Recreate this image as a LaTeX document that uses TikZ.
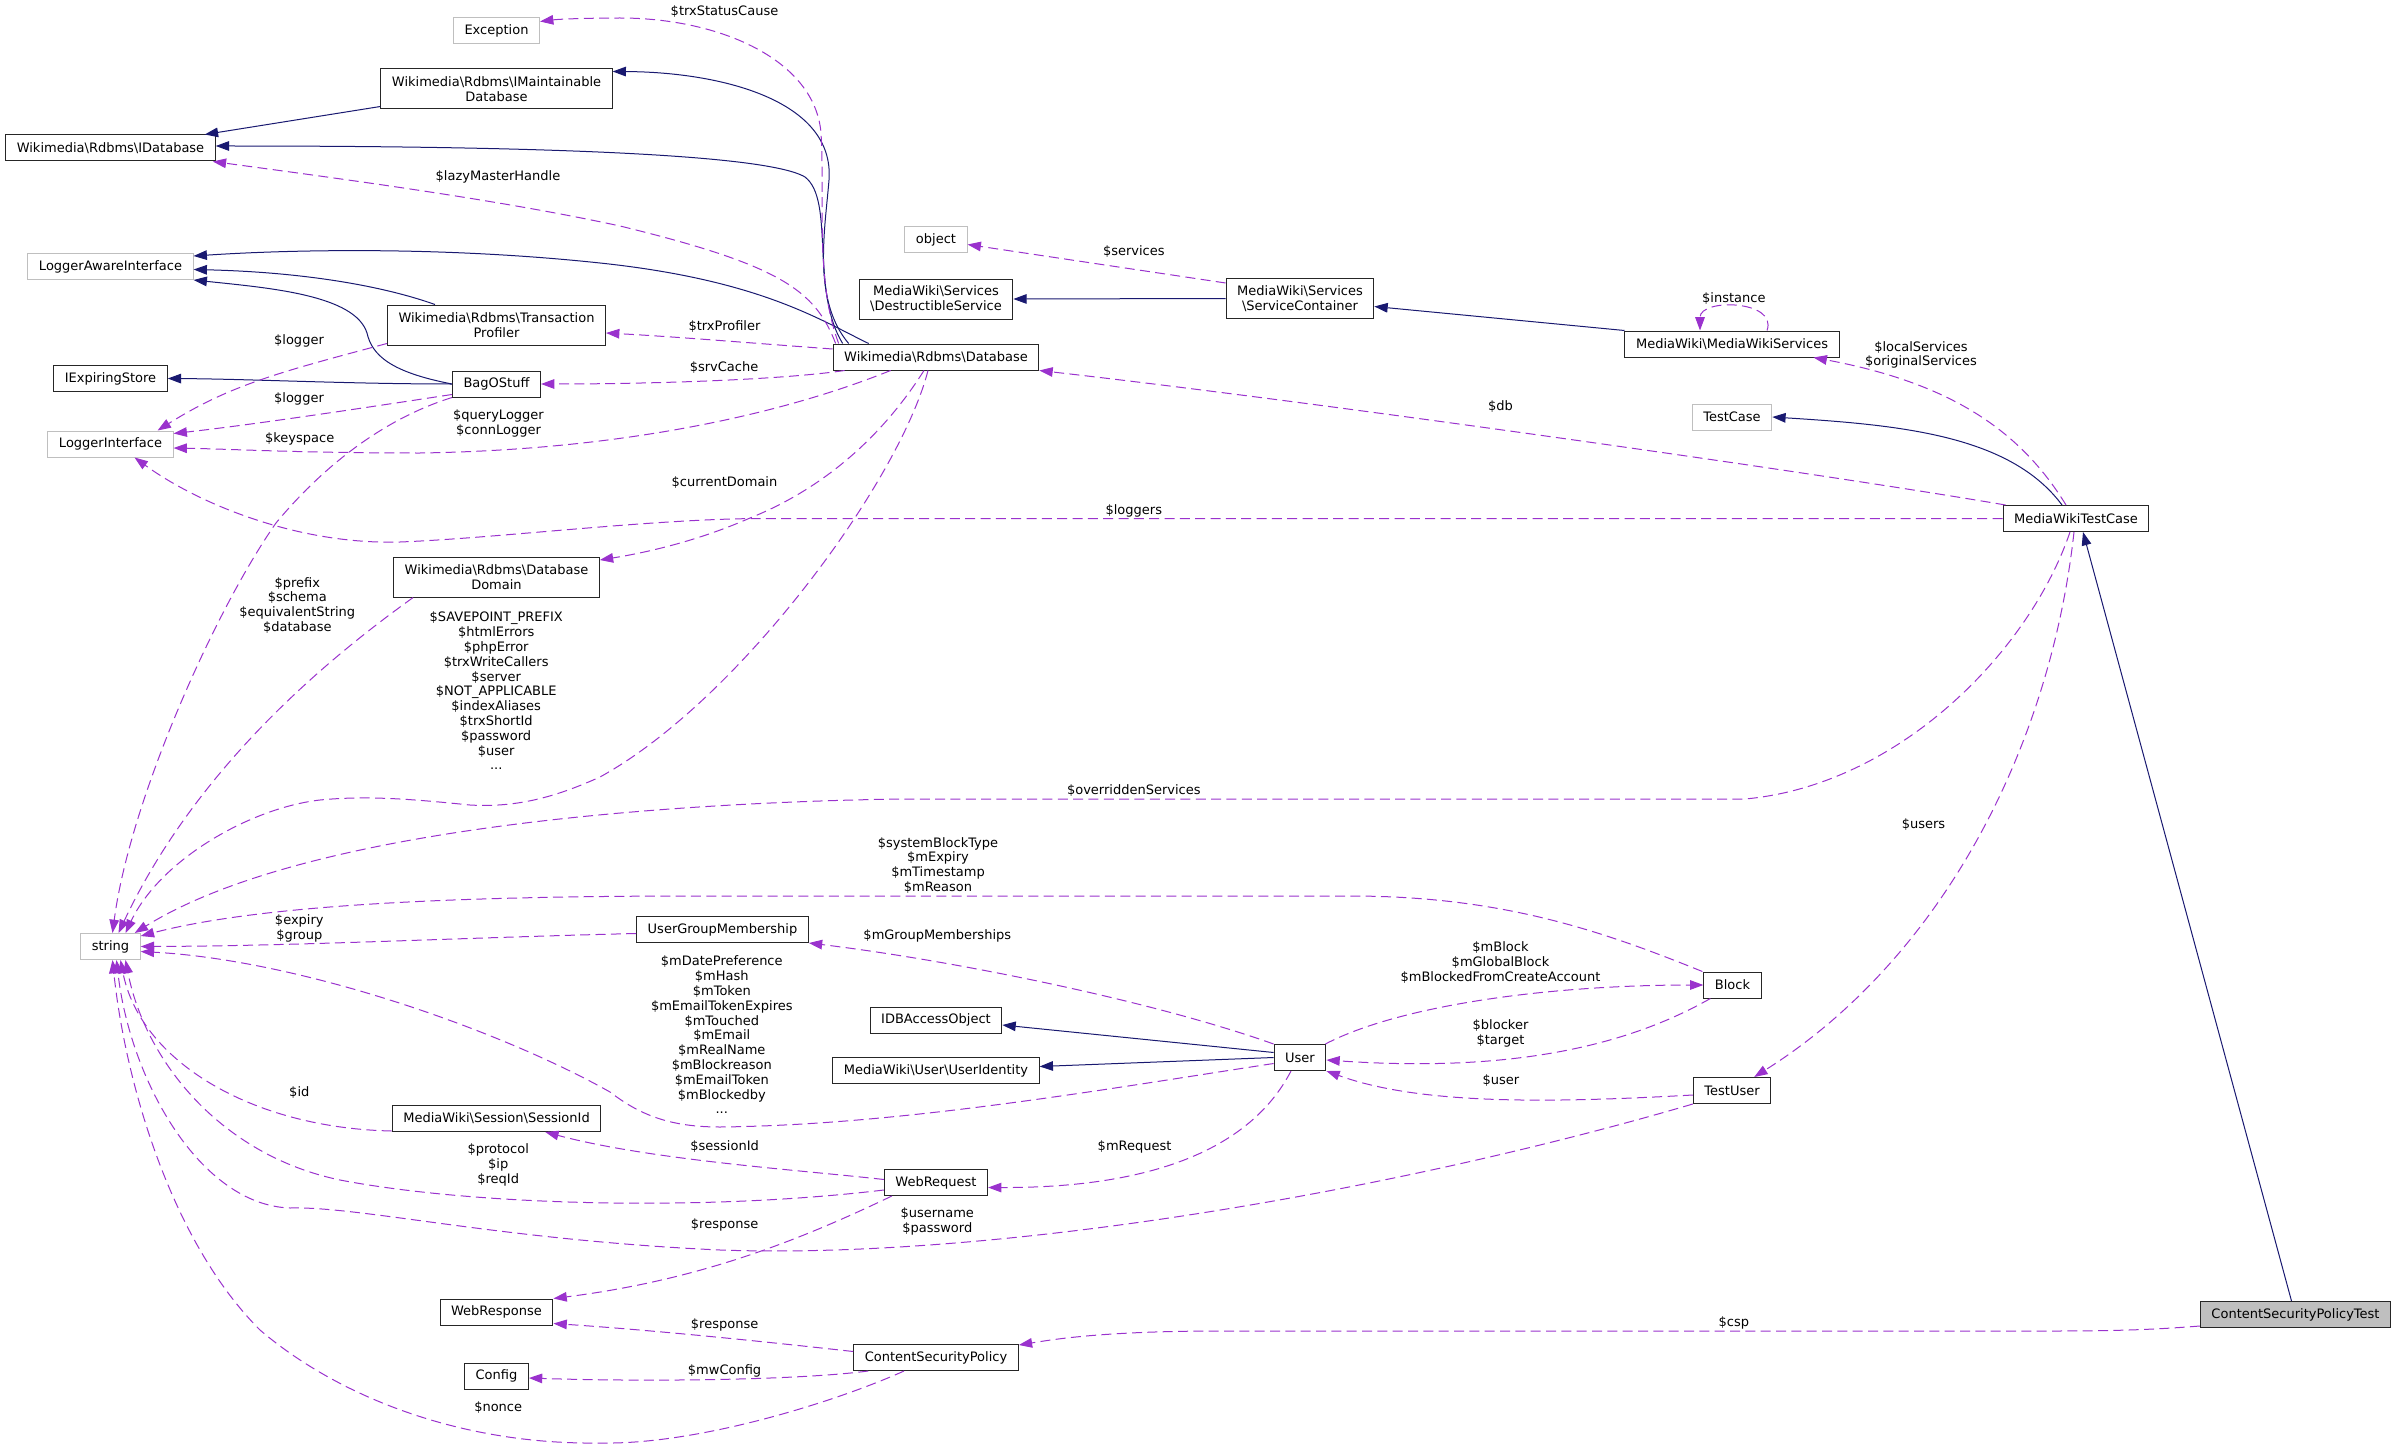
\documentclass[tikz,border=0pt]{standalone}
\usepackage{fontspec}
\setmainfont{DejaVu Sans}
\usetikzlibrary{arrows.meta,calc}
\definecolor{navyedge}{HTML}{191970}
\definecolor{orchidedge}{HTML}{9A32CD}
\definecolor{extgray}{HTML}{BFBFBF}
\definecolor{boxline}{HTML}{262626}
\newcommand{\mybs}{\textbackslash{}}
\newcommand{\lbfont}{\fontsize{9.75pt}{11.1pt}\selectfont}
\tikzset{
  clsbox/.style={draw=boxline, fill=white, line width=0.75pt, font=\lbfont, inner xsep=8.3pt, inner ysep=0pt, minimum height=19.5pt, align=center},
  clsboxtwo/.style={clsbox, minimum height=30pt},
  extbox/.style={clsbox, draw=extgray},
  rootbox/.style={clsbox, fill=extgray},
  edgelbl/.style={font=\lbfont, inner sep=0pt, align=center},
  inhedge/.style={draw=navyedge, line width=0.75pt, -{Triangle[length=10pt,width=7.2pt]}},
  depedge/.style={draw=orchidedge, line width=0.75pt, dash pattern=on 7.5pt off 4pt, -{Triangle[length=10pt,width=7.2pt]}}
}
\begin{document}
\begin{tikzpicture}[x=0.75pt, y=-0.75pt]
\useasboundingbox (0,0) rectangle (2396,1452);
% nodes
\node[clsbox] (idb) at (110.5,148) {Wikimedia\mybs Rdbms\mybs IDatabase};
\node[extbox] (lai) at (110.5,266.5) {LoggerAwareInterface};
\node[clsbox] (ies) at (110.5,378.5) {IExpiringStore};
\node[extbox] (li) at (110.5,444) {LoggerInterface};
\node[extbox] (str) at (110.5,946.5) {string};
\node[extbox] (exc) at (496.5,30.5) {Exception};
\node[clsboxtwo] (imd) at (496.5,89) {Wikimedia\mybs Rdbms\mybs IMaintainable\\Database};
\node[clsboxtwo] (tp) at (496.5,325) {Wikimedia\mybs Rdbms\mybs Transaction\\Profiler};
\node[clsbox] (bos) at (496.5,384) {BagOStuff};
\node[clsboxtwo] (dd) at (496.5,577) {Wikimedia\mybs Rdbms\mybs Database\\Domain};
\node[clsbox] (sid) at (496.5,1118.5) {MediaWiki\mybs Session\mybs SessionId};
\node[clsbox] (wresp) at (496.5,1312) {WebResponse};
\node[clsbox] (cfg) at (496.5,1376) {Config};
\node[clsbox] (ugm) at (722.5,929.5) {UserGroupMembership};
\node[extbox] (obj) at (936,239.5) {object};
\node[clsboxtwo] (ds) at (936,299) {MediaWiki\mybs Services\\\mybs DestructibleService};
\node[clsbox] (db) at (936,357) {Wikimedia\mybs Rdbms\mybs Database};
\node[clsbox] (idbao) at (936,1020) {IDBAccessObject};
\node[clsbox] (uid) at (936,1070.5) {MediaWiki\mybs User\mybs UserIdentity};
\node[clsbox] (wreq) at (936,1182.5) {WebRequest};
\node[clsbox] (csp) at (936,1357.5) {ContentSecurityPolicy};
\node[clsboxtwo] (sc) at (1300,298.5) {MediaWiki\mybs Services\\\mybs ServiceContainer};
\node[clsbox] (user) at (1300,1057.5) {User};
\node[clsbox] (mws) at (1732,344) {MediaWiki\mybs MediaWikiServices};
\node[extbox] (tc) at (1732,417) {TestCase};
\node[clsbox] (blk) at (1732.5,985) {Block};
\node[clsbox] (tu) at (1732,1090.5) {TestUser};
\node[clsbox] (mwtc) at (2076,518.5) {MediaWikiTestCase};
\node[rootbox] (cspt) at (2295.5,1314.5) {ContentSecurityPolicyTest};
% inheritance edges
\draw[inhedge] ($(imd.south west)+(0,-3)$) -- ($(idb.north east)+(-11,0)$);
\draw[inhedge] ($(db.north west)+(16,0)$) .. controls (812,300) and (825,230) .. (829,180) .. controls (835,100) and (720,72) .. ($(imd.north east)+(0,3)$);
\draw[inhedge] ($(db.north west)+(10,0)$) .. controls (810,290) and (835,200) .. (805,177) .. controls (760,150) and (450,146) .. ($(idb.east)+(0,-2)$);
\draw[inhedge] ($(db.north west)+(36,0)$) .. controls (820,320) and (760,280) .. (600,263) .. controls (450,247) and (300,249) .. ($(lai.north east)+(0,3)$);
\draw[inhedge] ($(tp.north west)+(48,0)$) .. controls (380,285) and (300,272) .. ($(lai.east)+(0,3)$);
\draw[inhedge] (bos.west) .. controls (390,372) and (372,355) .. (367,333) .. controls (355,295) and (270,288) .. (lai.south east);
\draw[inhedge] (bos.west) .. controls (350,384) and (250,379) .. (ies.east);
\draw[inhedge] (sc.west) -- (ds.east);
\draw[inhedge] (mws.north west) -- ($(sc.east)+(0,8)$);
\draw[inhedge] ($(mwtc.north)+(-14,0)$) .. controls (2010,435) and (1900,425) .. (tc.east);
\draw[inhedge] ($(cspt.north)+(-4,0)$) -- ($(mwtc.south)+(7,0)$);
\draw[inhedge] ($(user.west)+(0,-5)$) -- ($(idbao.east)+(0,5)$);
\draw[inhedge] (user.west) -- ($(uid.east)+(0,-4)$);
% usage edges
\draw[depedge] ($(tp.south west)+(0,-2)$) .. controls (280,372) and (230,385) .. ($(li.north east)+(-16,0)$);
\draw[depedge] ($(bos.south west)+(0,-3)$) .. controls (350,410) and (250,425) .. ($(li.north east)+(0,3)$);
\draw[depedge] ($(db.south west)+(58,0)$) .. controls (780,415) and (620,450) .. (420,453) .. controls (300,453) and (230,449) .. ($(li.east)+(0,4)$);
\draw[depedge] (bos.south west) .. controls (380,420) and (320,470) .. (276,523) .. controls (215,610) and (130,800) .. ($(str.north)+(2,0)$);
\draw[depedge] ($(dd.south west)+(20,0)$) .. controls (340,650) and (200,760) .. ($(str.north)+(8,0)$);
\draw[depedge] ($(db.south)+(-8,0)$) .. controls (900,480) and (740,700) .. (600,777) .. controls (560,795) and (520,808) .. (470,805) .. controls (420,800) and (370,795) .. (320,800) .. controls (250,808) and (160,860) .. ($(str.north)+(15,0)$);
\draw[depedge] ($(db.north west)+(6,0)$) .. controls (815,280) and (825,200) .. (821,133) .. controls (815,60) and (720,18) .. (620,18) .. controls (590,18) and (560,19) .. ($(exc.east)+(0,-9)$);
\draw[depedge] ($(db.north west)+(3,0)$) .. controls (815,290) and (780,265) .. (620,226) .. controls (500,200) and (350,180) .. ($(idb.south east)+(-3,0)$);
\draw[depedge] ($(db.west)+(0,-8)$) .. controls (750,343) and (680,337) .. ($(tp.east)+(0,8)$);
\draw[depedge] ($(db.south west)+(12,0)$) .. controls (780,380) and (650,384) .. (bos.east);
\draw[depedge] ($(db.south)+(-12,0)$) .. controls (880,440) and (820,490) .. (750,518) .. controls (700,540) and (650,552) .. ($(dd.east)+(0,-17)$);
\draw[depedge] ($(sc.north west)+(0,5)$) -- ($(obj.east)+(0,5)$);
\draw[depedge] ($(mws.north)+(35,0)$) .. controls (1778,300) and (1700,298) .. ($(mws.north)+(-32,0)$);
\draw[depedge] ($(mwtc.north)+(-10,0)$) .. controls (2020,430) and (1950,383) .. ($(mws.south east)+(-26,0)$);
\draw[depedge] ($(mwtc.north west)+(3,0)$) .. controls (1800,470) and (1300,400) .. (db.south east);
\draw[depedge] (mwtc.west) -- (760,518.5) .. controls (650,519) and (500,538) .. (400,542) .. controls (300,545) and (200,505) .. ($(li.south)+(24,0)$);
\draw[depedge] ($(mwtc.south)+(-6,0)$) .. controls (2030,650) and (1900,785) .. (1745,799) -- (900,799) .. controls (650,803) and (300,830) .. ($(str.north east)+(-6,0)$);
\draw[depedge] ($(mwtc.south)+(-2,0)$) .. controls (2050,750) and (1940,960) .. ($(tu.north east)+(-17,0)$);
\draw[depedge] ($(cspt.south west)+(0,-2)$) .. controls (2150,1330) and (2110,1331) .. (2050,1331) -- (1220,1331) .. controls (1100,1331) and (1050,1340) .. ($(csp.north east)+(0,1)$);
\draw[depedge] ($(user.north east)+(-1,0)$) .. controls (1400,1005) and (1550,985) .. (blk.west);
\draw[depedge] ($(blk.south west)+(7,0)$) .. controls (1620,1050) and (1500,1072) .. ($(user.east)+(0,2.5)$);
\draw[depedge] ($(tu.west)+(0,4.5)$) .. controls (1550,1103) and (1420,1105) .. (user.south east);
\draw[depedge] (tu.south west) .. controls (1400,1190) and (1000,1260) .. (720,1250) .. controls (500,1240) and (360,1206) .. (290,1208) .. controls (200,1205) and (130,1080) .. ($(str.south)+(6,0)$);
\draw[depedge] (user.north west) .. controls (1150,1000) and (950,960) .. (ugm.south east);
\draw[depedge] ($(user.west)+(0,6)$) .. controls (1100,1090) and (900,1125) .. (720,1127) .. controls (670,1127) and (640,1115) .. (610,1092) .. controls (500,1030) and (300,960) .. ($(str.east)+(0,5)$);
\draw[depedge] ($(user.south)+(-9,0)$) .. controls (1250,1150) and (1150,1188) .. ($(wreq.east)+(0,5)$);
\draw[depedge] ($(ugm.west)+(0,4)$) .. controls (450,938) and (300,946) .. (str.east);
\draw[depedge] ($(blk.north west)+(-1,0)$) .. controls (1600,930) and (1500,896) .. (1350,896) -- (700,896) .. controls (450,896) and (260,905) .. ($(str.north east)+(0,3)$);
\draw[depedge] ($(sid.south west)+(0,-1)$) .. controls (250,1128) and (140,1060) .. ($(str.south)+(10,0)$);
\draw[depedge] ($(wreq.west)+(0,-3)$) .. controls (800,1170) and (650,1160) .. ($(sid.south east)+(-56,0)$);
\draw[depedge] ($(wreq.west)+(0,7.5)$) .. controls (700,1212) and (470,1205) .. (340,1180) .. controls (220,1155) and (145,1060) .. ($(str.south)+(15,0)$);
\draw[depedge] ($(csp.south)+(-32,0)$) .. controls (840,1400) and (700,1445) .. (600,1443) .. controls (450,1445) and (330,1390) .. (260,1330) .. controls (170,1240) and (125,1080) .. ($(str.south)+(2,0)$);
\draw[depedge] ($(wreq.south west)+(8,0)$) .. controls (800,1240) and (700,1280) .. (wresp.north east);
\draw[depedge] ($(csp.west)+(0,-6)$) .. controls (750,1340) and (650,1330) .. ($(wresp.south east)+(0,-2)$);
\draw[depedge] ($(csp.south west)+(15,0)$) .. controls (800,1380) and (650,1382) .. ($(cfg.east)+(0,2)$);
% labels
\node[edgelbl] (lb1) at (724.5,11.7) {\$trxStatusCause};
\node[edgelbl] (lb2) at (498,176.7) {\$lazyMasterHandle};
\node[edgelbl] (lb3) at (724.5,326.7) {\$trxProfiler};
\node[edgelbl] (lb4) at (724,367.3) {\$srvCache};
\node[edgelbl] (lb5) at (299,340.7) {\$logger};
\node[edgelbl] (lb6) at (299,398.7) {\$logger};
\node[edgelbl] (lb7) at (498.5,423.3) {\$queryLogger\\\$connLogger};
\node[edgelbl] (lb8) at (299.7,438.7) {\$keyspace};
\node[edgelbl] (lb9) at (1133.8,251.7) {\$services};
\node[edgelbl] (lb10) at (1733.8,298.3) {\$instance};
\node[edgelbl] (lb11) at (1921,355) {\$localServices\\\$originalServices};
\node[edgelbl] (lb12) at (1500.5,406.7) {\$db};
\node[edgelbl] (lb13) at (1133.8,510.7) {\$loggers};
\node[edgelbl] (lb14) at (724.5,482.7) {\$currentDomain};
\node[edgelbl] (lb15) at (297.3,605.3) {\$prefix\\\$schema\\\$equivalentString\\\$database};
\node[edgelbl] (lb16) at (496.2,691) {\$SAVEPOINT\_PREFIX\\\$htmlErrors\\\$phpError\\\$trxWriteCallers\\\$server\\\$NOT\_APPLICABLE\\\$indexAliases\\\$trxShortId\\\$password\\\$user\\...};
\node[edgelbl] (lb17) at (1133.8,790.7) {\$overriddenServices};
\node[edgelbl] (lb18) at (938,865.3) {\$systemBlockType\\\$mExpiry\\\$mTimestamp\\\$mReason};
\node[edgelbl] (lb19) at (299.3,928.2) {\$expiry\\\$group};
\node[edgelbl] (lb20) at (937.3,935.7) {\$mGroupMemberships};
\node[edgelbl] (lb21) at (721.8,1034.9) {\$mDatePreference\\\$mHash\\\$mToken\\\$mEmailTokenExpires\\\$mTouched\\\$mEmail\\\$mRealName\\\$mBlockreason\\\$mEmailToken\\\$mBlockedby\\...};
\node[edgelbl] (lb22) at (1500.5,962.5) {\$mBlock\\\$mGlobalBlock\\\$mBlockedFromCreateAccount};
\node[edgelbl] (lb23) at (1500.5,1033.7) {\$blocker\\\$target};
\node[edgelbl] (lb24) at (1501,1080.7) {\$user};
\node[edgelbl] (lb25) at (1923.5,824.3) {\$users};
\node[edgelbl] (lb26) at (299.3,1092.3) {\$id};
\node[edgelbl] (lb27) at (498.2,1165) {\$protocol\\\$ip\\\$reqId};
\node[edgelbl] (lb28) at (724.6,1146.7) {\$sessionId};
\node[edgelbl] (lb29) at (1134.6,1146.7) {\$mRequest};
\node[edgelbl] (lb30) at (937.3,1221.7) {\$username\\\$password};
\node[edgelbl] (lb31) at (724.6,1225) {\$response};
\node[edgelbl] (lb32) at (724.6,1325) {\$response};
\node[edgelbl] (lb33) at (724.6,1370.7) {\$mwConfig};
\node[edgelbl] (lb34) at (498.2,1407.7) {\$nonce};
\node[edgelbl] (lb35) at (1733.8,1322.7) {\$csp};
\end{tikzpicture}
\end{document}
